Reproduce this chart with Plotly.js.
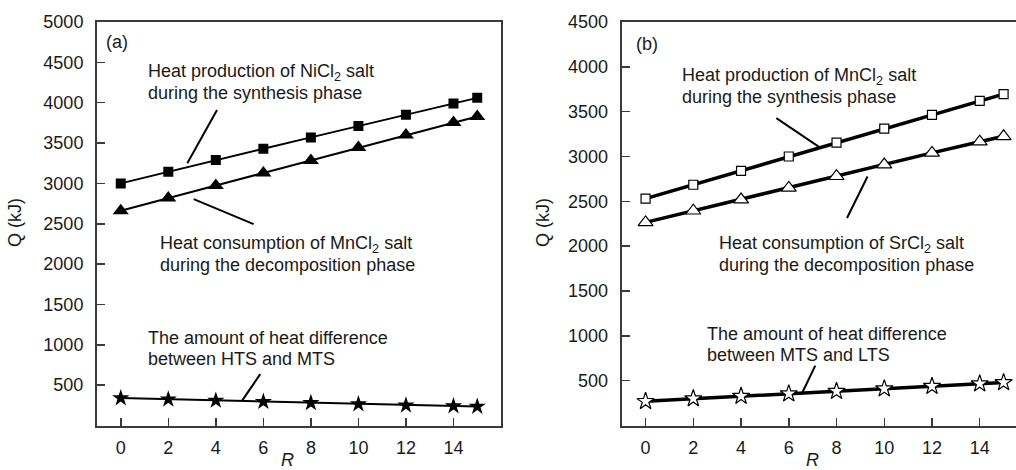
<!DOCTYPE html>
<html>
<head>
<meta charset="utf-8">
<script src="https://cdn.plot.ly/plotly-3.0.1.min.js"></script>
<style>html,body{margin:0;padding:0;background:#fff;overflow:hidden}#chart{width:1016px;height:470px}</style>
</head>
<body>
<div id="chart"></div>
<script>
// ---- data ----
const R = [0, 2, 4, 6, 8, 10, 12, 14, 15];
// panel (a)
const a_NiCl2_synthesis = [3000, 3145, 3290, 3430, 3570, 3710, 3850, 3990, 4060];
const a_MnCl2_decomposition = [2660, 2820, 2975, 3130, 3285, 3445, 3600, 3755, 3830];
const a_heat_difference = [340, 325, 310, 295, 280, 265, 250, 240, 235];
// panel (b)
const b_MnCl2_synthesis = [2530, 2685, 2840, 3000, 3155, 3310, 3465, 3620, 3695];
const b_SrCl2_decomposition = [2265, 2395, 2520, 2650, 2780, 2910, 3040, 3165, 3225];
const b_heat_difference = [270, 300, 328, 355, 382, 410, 438, 466, 480];

const xTicks = [0, 2, 4, 6, 8, 10, 12, 14];
const yTicksA = [500, 1000, 1500, 2000, 2500, 3000, 3500, 4000, 4500, 5000];
const yTicksB = [500, 1000, 1500, 2000, 2500, 3000, 3500, 4000, 4500];

const W = 1016, H = 470;
const FONT = 'Liberation Sans, Arial, Helvetica, sans-serif';
const TXT = '#1a1a1a';
const AX = '#3a3a3a';

function line(x, y, xa, ya, sym, size, fill, lw, mlw) {
  return {x: x, y: y, xaxis: xa, yaxis: ya, type: 'scatter', mode: 'lines+markers',
    line: {color: '#000', width: lw},
    marker: {symbol: sym, size: size, color: fill, line: {color: '#000', width: mlw}},
    showlegend: false, hoverinfo: 'x+y'};
}

const traces = [
  line(R, a_NiCl2_synthesis, 'x', 'y', 'square', 10, '#000', 2, 0),
  line(R, a_MnCl2_decomposition, 'x', 'y', 'triangle-up', 14, '#000', 2, 0),
  line(R, a_heat_difference, 'x', 'y', 'star', 13, '#000', 2, 0),
  line(R, b_MnCl2_synthesis, 'x2', 'y2', 'square', 9, '#fff', 3.5, 1.2),
  line(R, b_SrCl2_decomposition, 'x2', 'y2', 'triangle-up', 13, '#fff', 3.5, 1.2),
  line(R, b_heat_difference, 'x2', 'y2', 'star', 13, '#fff', 3.5, 1.2)
];

function px2x(p) { return p / W; }
function px2y(p) { return 1 - p / H; }

function txt(text, x, y, extra) {
  return Object.assign({text: text, xref: 'paper', yref: 'paper', x: px2x(x), y: px2y(y),
    xanchor: 'left', yanchor: 'middle', showarrow: false,
    font: {family: FONT, size: 18, color: TXT}}, extra || {});
}

const annotations = [
  txt('(a)', 104, 42),
  txt('Heat production of NiCl<sub>2</sub> salt', 146, 72),
  txt('during the synthesis phase', 146, 93),
  txt('Heat consumption of MnCl<sub>2</sub> salt', 158, 244),
  txt('during the decomposition phase', 158, 265),
  txt('The amount of heat difference', 146, 338),
  txt('between HTS and MTS', 146, 359),
  txt('(b)', 634, 44),
  txt('Heat production of MnCl<sub>2</sub> salt', 680, 76),
  txt('during the synthesis phase', 680, 97),
  txt('Heat consumption of SrCl<sub>2</sub> salt', 717, 244),
  txt('during the decomposition phase', 717, 265),
  txt('The amount of heat difference', 705, 334),
  txt('between MTS and LTS', 705, 355),
  txt('Q (kJ)', 15, 223, {xanchor: 'center', textangle: -90}),
  txt('Q (kJ)', 543, 223, {xanchor: 'center', textangle: -90}),
  txt('<i>R</i>', 287, 460, {xanchor: 'center'}),
  txt('<i>R</i>', 812, 460, {xanchor: 'center'})
];

function seg(xr, yr, x0, y0, x1, y1) {
  return {type: 'line', xref: xr, yref: yr, x0: x0, y0: y0, x1: x1, y1: y1,
    line: {color: '#000', width: 2}};
}
const shapes = [
  seg('x', 'y', 4.05, 3910, 2.8, 3250),
  seg('x', 'y', 3.07, 2806, 5.59, 2496),
  seg('x', 'y', 5.87, 636, 5.10, 305),
  seg('x2', 'y2', 5.48, 3428, 7.25, 3111),
  seg('x2', 'y2', 8.44, 2314, 9.30, 2777),
  seg('x2', 'y2', 7.11, 668, 6.57, 368)
];

function xaxis(domain, range) {
  return {domain: domain, range: range, tickvals: xTicks, ticks: 'inside', ticklen: 8,
    tickwidth: 1.5, tickcolor: AX, showline: true, linecolor: AX, linewidth: 2, mirror: true,
    showgrid: false, zeroline: false, ticklabelstandoff: 5,
    tickfont: {family: FONT, size: 18, color: TXT}};
}
function yaxis(domain, range, ticks, mirror, anchor) {
  return {domain: domain, range: range, tickvals: ticks, ticks: 'inside', ticklen: 8,
    tickwidth: 1.5, tickcolor: AX, showline: true, linecolor: AX, linewidth: 2, mirror: mirror,
    showgrid: false, zeroline: false, anchor: anchor, ticklabelstandoff: 8,
    tickfont: {family: FONT, size: 18, color: TXT}};
}

const yDom = [1 - 425.5 / H, 1 - 22 / H];
const layout = {
  width: W, height: H, margin: {l: 0, r: 0, t: 0, b: 0},
  paper_bgcolor: '#fff', plot_bgcolor: '#fff', showlegend: false,
  xaxis: Object.assign(xaxis([97 / W, 501 / W], [-1, 16]), {anchor: 'y'}),
  yaxis: yaxis(yDom, [0, 5000], yTicksA, true, 'x'),
  xaxis2: Object.assign(xaxis([621.7 / W, 1], [-1, 15.52]), {anchor: 'y2'}),
  yaxis2: yaxis(yDom, [0, 4500], yTicksB, false, 'x2'),
  annotations: annotations,
  shapes: shapes
};

Plotly.newPlot('chart', traces, layout, {displayModeBar: false, staticPlot: true});
</script>
</body>
</html>
